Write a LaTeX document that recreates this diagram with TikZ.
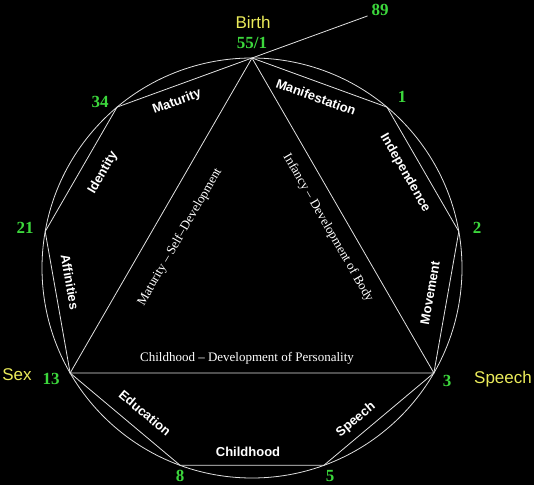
\documentclass[tikz,border=0pt]{standalone}
\usepackage{fontspec}
\setmainfont{Liberation Serif}
\setsansfont{Liberation Sans}
\usetikzlibrary{calc}
\definecolor{numgreen}{RGB}{60,215,60}
\definecolor{lblyellow}{RGB}{235,235,90}
\definecolor{linegray}{RGB}{225,225,225}
\tikzset{
  edge/.style={draw=linegray, line width=0.8pt},
  num/.style={text=numgreen, font=\fontsize{17}{19}\selectfont\bfseries, inner sep=0pt},
  stage/.style={text=lblyellow, font=\fontsize{17}{19}\selectfont\sffamily, inner sep=0pt},
  side/.style={text=white, font=\fontsize{13}{15}\selectfont\sffamily\bfseries, inner sep=0pt},
  period/.style={text=white, font=\fontsize{13}{15}\selectfont, inner sep=0pt}
}
\begin{document}
\begin{tikzpicture}[x=1pt,y=1pt]
\fill[black] (0,0) rectangle (534,485);
\useasboundingbox (0,0) rectangle (534,485);
\coordinate (O) at (252,217);
\begin{scope}[shift={(O)}]
  \coordinate (n55) at (90:210);
  \coordinate (n1) at (50:210);
  \coordinate (n2) at (10:210);
  \coordinate (n3) at (-30:210);
  \coordinate (n5) at (-70:210);
  \coordinate (n8) at (-110:210);
  \coordinate (n13) at (-150:210);
  \coordinate (n21) at (170:210);
  \coordinate (n34) at (130:210);
\end{scope}
\coordinate (e89) at ($(n55)+(20:123)$);
% circle
\draw[edge] (O) circle (210);
% nonagon
\draw[edge] (n55) -- (n1) -- (n2) -- (n3) -- (n5) -- (n8) -- (n13) -- (n21) -- (n34) -- cycle;
% triangle
\draw[edge] (n55) -- (n3) -- (n13) -- cycle;
% line to 89
\draw[edge] (n55) -- (e89);
% numbers
\node[num] (t89) at (380,475) {89};
\node[num] (t55) at (252,442) {55/1};
\node[num] (t1) at (402,388) {1};
\node[num] (t2) at (477,257) {2};
\node[num] (t3) at (447,104) {3};
\node[num] (t5) at (330,9) {5};
\node[num] (t8) at (180,9) {8};
\node[num] (t13) at (51,106) {13};
\node[num] (t21) at (25,257) {21};
\node[num] (t34) at (100,383) {34};
% stages
\node[stage] (birth) at (253,463) {Birth};
\node[stage] (speechY) at (503,106) {Speech};
\node[stage] (sex) at (17,110) {Sex};
% side labels
\node[side, rotate=20] (maturity) at (177,383) {Maturity};
\node[side, rotate=-20] (manif) at (316,388) {Manifestation};
\node[side, rotate=-60] (indep) at (405,312) {Independence};
\node[side, rotate=80] (movement) at (430,192) {Movement};
\node[side, rotate=40] (speech) at (356,65) {Speech};
\node[side] (childhood) at (248,33) {Childhood};
\node[side, rotate=-40] (education) at (145,72) {Education};
\node[side, rotate=-80] (affinities) at (70,203) {Affinities};
\node[side, rotate=60] (identity) at (103,312) {Identity};
% triangle labels
\node[period, rotate=60] (pmat) at (180,248) {Maturity -- Self--Development};
\node[period, rotate=-60] (pinf) at (328,257) {Infancy -- Development of Body};
\node[period] (pchild) at (247,127) {Childhood -- Development of Personality};
\end{tikzpicture}
\end{document}
